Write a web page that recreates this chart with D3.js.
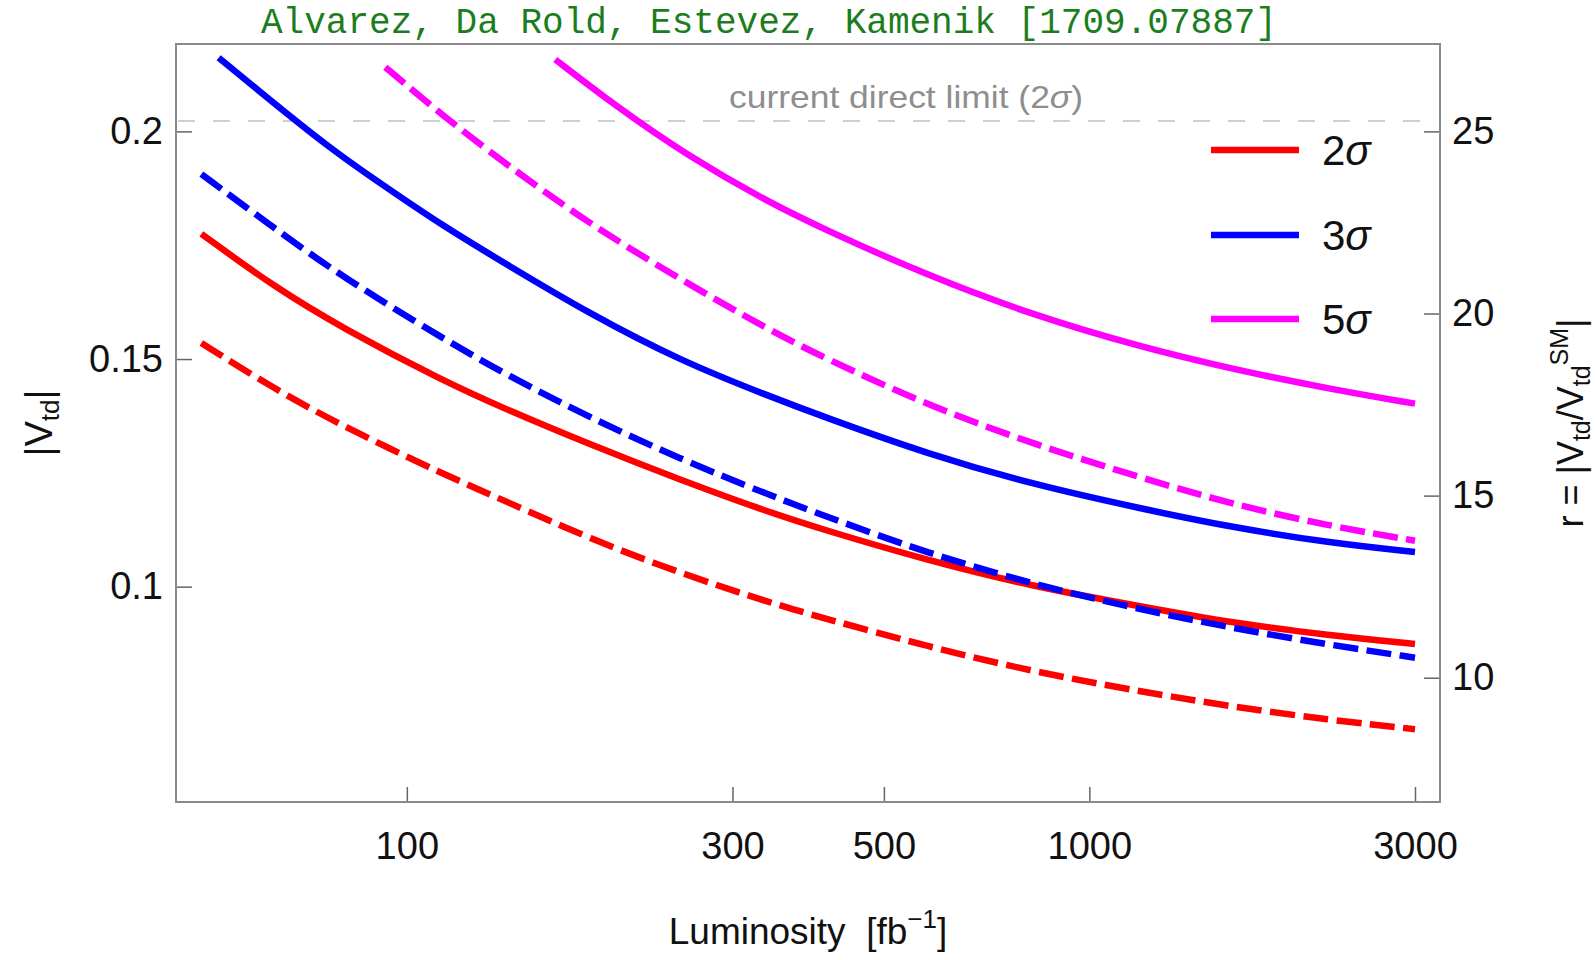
<!DOCTYPE html>
<html>
<head>
<meta charset="utf-8">
<script src="https://cdn.jsdelivr.net/npm/d3@7"></script>
<style>
  html, body { margin: 0; padding: 0; background: #fff; }
  svg { display: block; font-family: "Liberation Sans", Arial, sans-serif; }
</style>
</head>
<body>
<svg id="chart" width="1595" height="960"></svg>
<script>
// Luminosity samples [fb^-1] and the |Vtd| reach at each significance.
// Solid and dashed curves are the two scenarios of each significance level.
const lumi2Solid = [50, 64, 80.5, 113, 140, 185, 251, 340, 410, 578, 828, 1186, 1607, 2252, 3000];
const vtd2Solid  = [0.1775, 0.1658, 0.1568, 0.1452, 0.1389, 0.1313, 0.1235, 0.1163, 0.1124, 0.1058, 0.1000, 0.0957, 0.0921, 0.0893, 0.0874];

const lumi2Dashed = [50, 64, 80.5, 113, 140, 185, 251, 340, 410, 578, 828, 1186, 1607, 2252, 3000];
const vtd2Dashed  = [0.1535, 0.1434, 0.1353, 0.1247, 0.1187, 0.1106, 0.1030, 0.0965, 0.0930, 0.0869, 0.0813, 0.0770, 0.0737, 0.0707, 0.0687];

const lumi3Solid = [53, 61.5, 77, 90, 113, 140, 185, 251, 340, 410, 578, 828, 1186, 1607, 2252, 3000];
const vtd3Solid  = [0.2162, 0.2082, 0.1964, 0.1893, 0.1792, 0.1708, 0.1600, 0.1497, 0.1418, 0.1372, 0.1292, 0.1224, 0.1172, 0.1131, 0.1096, 0.1076];

const lumi3Dashed = [50, 64, 80.5, 113, 140, 185, 251, 340, 410, 578, 828, 1186, 1607, 2252, 3000];
const vtd3Dashed  = [0.1906, 0.1787, 0.1680, 0.1545, 0.1465, 0.1372, 0.1281, 0.1201, 0.1155, 0.1074, 0.1005, 0.0950, 0.0910, 0.0872, 0.0844];

const lumi5Solid = [165, 203, 257, 337, 410, 578, 828, 1186, 1607, 2252, 3000];
const vtd5Solid  = [0.2158, 0.2054, 0.1948, 0.1846, 0.1784, 0.1684, 0.1596, 0.1527, 0.1479, 0.1434, 0.1402];

const lumi5Dashed = [93, 113, 140, 185, 251, 340, 410, 578, 828, 1186, 1607, 2252, 3000];
const vtd5Dashed  = [0.2141, 0.2034, 0.1927, 0.1797, 0.1676, 0.1563, 0.1502, 0.1399, 0.1313, 0.1240, 0.1182, 0.1133, 0.1101];

// Axis ticks and reference values
const xTicks = [100, 300, 500, 1000, 3000];
const yTicks = [0.1, 0.15, 0.2];
const rTicks = [10, 15, 20, 25];
const sigmaLevels = ["2", "3", "5"];
const sigmaColors = ["#ff0000", "#0000ff", "#ff00ff"];
const directLimit = 0.2023;   // current direct bound on |Vtd| at 2 sigma
const vtdSM = 0.008;          // SM value used for the ratio axis

// Layout
const plot = { left: 176, right: 1440, top: 44, bottom: 802 };
const lumiDomain = [45.9, 3264];
const vtdDomain = [0.0527, 0.2192];

const svg = d3.select("#chart");

const x = d3.scaleLog().domain(lumiDomain).range([plot.left, plot.right]);
const y = d3.scaleLinear().domain(vtdDomain).range([plot.bottom, plot.top]);
const yR = d3.scaleLinear().domain(vtdDomain.map(v => v / vtdSM)).range([plot.bottom, plot.top]);

// Title
svg.append("text")
  .attr("x", 261).attr("y", 33)
  .attr("font-family", "'Liberation Mono', 'Courier New', monospace")
  .attr("font-size", 36)
  .attr("fill", "#1d7d1d")
  .attr("textLength", 1016)
  .attr("lengthAdjust", "spacingAndGlyphs")
  .text("Alvarez, Da Rold, Estevez, Kamenik [1709.07887]");

// Clip region for the curves
svg.append("defs").append("clipPath").attr("id", "plotClip")
  .append("rect")
  .attr("x", plot.left).attr("y", plot.top)
  .attr("width", plot.right - plot.left).attr("height", plot.bottom - plot.top);

// Direct-limit reference line and its label
svg.append("line")
  .attr("x1", plot.left + 2).attr("x2", plot.right - 2)
  .attr("y1", y(directLimit)).attr("y2", y(directLimit))
  .attr("stroke", "#cfcfcf").attr("stroke-width", 2)
  .attr("stroke-dasharray", "17,18");

const limitLabel = svg.append("text")
  .attr("x", 729).attr("y", 108)
  .attr("font-size", 32)
  .attr("fill", "#8e8e8e")
  .attr("textLength", 354)
  .attr("lengthAdjust", "spacingAndGlyphs");
limitLabel.append("tspan").text("current direct limit (2");
limitLabel.append("tspan").attr("font-style", "italic").text("σ");
limitLabel.append("tspan").text(")");

// Curves
const series = [
  { L: lumi2Solid,  V: vtd2Solid,  color: sigmaColors[0], dashed: false },
  { L: lumi2Dashed, V: vtd2Dashed, color: sigmaColors[0], dashed: true },
  { L: lumi3Solid,  V: vtd3Solid,  color: sigmaColors[1], dashed: false },
  { L: lumi3Dashed, V: vtd3Dashed, color: sigmaColors[1], dashed: true },
  { L: lumi5Solid,  V: vtd5Solid,  color: sigmaColors[2], dashed: false },
  { L: lumi5Dashed, V: vtd5Dashed, color: sigmaColors[2], dashed: true }
];

const line = d3.line()
  .x(d => x(d[0]))
  .y(d => y(d[1]))
  .curve(d3.curveBasis);

const curves = svg.append("g").attr("clip-path", "url(#plotClip)");
series.forEach(s => {
  const pts = s.L.map((l, i) => [l, s.V[i]]);
  curves.append("path")
    .datum(pts)
    .attr("d", line)
    .attr("fill", "none")
    .attr("stroke", s.color)
    .attr("stroke-width", 6.5)
    .attr("stroke-linecap", "butt")
    .attr("stroke-linejoin", "round")
    .attr("stroke-dasharray", s.dashed ? "25,8.5" : null);
});

// Axes (ticks point into the frame)
const tickColor = "#666";

const xAxis = svg.append("g")
  .attr("transform", `translate(0,${plot.bottom})`)
  .call(d3.axisBottom(x).tickValues(xTicks).tickFormat(d3.format("d"))
    .tickSizeInner(-15).tickSizeOuter(0).tickPadding(30));

const yAxis = svg.append("g")
  .attr("transform", `translate(${plot.left},0)`)
  .call(d3.axisLeft(y).tickValues(yTicks).tickFormat(d => String(d))
    .tickSizeInner(-16).tickSizeOuter(0).tickPadding(13));

const rAxis = svg.append("g")
  .attr("transform", `translate(${plot.right},0)`)
  .call(d3.axisRight(yR).tickValues(rTicks).tickFormat(d3.format("d"))
    .tickSizeInner(-16).tickSizeOuter(0).tickPadding(12));

[xAxis, yAxis, rAxis].forEach(g => {
  g.select(".domain").remove();
  g.selectAll(".tick line").attr("stroke", tickColor).attr("stroke-width", 1.5);
  g.selectAll(".tick text")
    .attr("fill", "#111")
    .attr("font-size", 38)
    .attr("font-family", "'Liberation Sans', Arial, sans-serif");
});

// Frame
svg.append("rect")
  .attr("x", plot.left).attr("y", plot.top)
  .attr("width", plot.right - plot.left).attr("height", plot.bottom - plot.top)
  .attr("fill", "none").attr("stroke", "#8a8a8a").attr("stroke-width", 2);

// Axis titles
const midX = (plot.left + plot.right) / 2;
const midY = (plot.top + plot.bottom) / 2;

const xTitle = svg.append("text")
  .attr("x", midX).attr("y", 944)
  .attr("text-anchor", "middle")
  .attr("font-size", 37).attr("fill", "#111");
xTitle.append("tspan").text("Luminosity\u00a0\u00a0[fb");
xTitle.append("tspan").attr("dy", -16).attr("font-size", 26).text("\u22121");
xTitle.append("tspan").attr("dy", 16).text("]");

const yTitle = svg.append("text")
  .attr("transform", `translate(52,${midY}) rotate(-90)`)
  .attr("text-anchor", "middle")
  .attr("font-size", 38).attr("fill", "#111");
yTitle.append("tspan").text("|V");
yTitle.append("tspan").attr("dy", 7).attr("font-size", 26).text("td");
yTitle.append("tspan").attr("dy", -7).text("|");

const rTitle = svg.append("text")
  .attr("transform", `translate(1583,${midY}) rotate(-90)`)
  .attr("text-anchor", "middle")
  .attr("font-size", 36).attr("fill", "#111");
rTitle.append("tspan").text("r = |V");
rTitle.append("tspan").attr("dy", 7).attr("font-size", 25).text("td");
rTitle.append("tspan").attr("dy", -7).text("/V");
rTitle.append("tspan").attr("dy", 7).attr("font-size", 25).text("td");
rTitle.append("tspan").attr("dy", -22).attr("font-size", 25).text("SM");
rTitle.append("tspan").attr("dy", 15).text("|");

// Legend
const legendY = [150, 235, 319];
const legend = svg.append("g");
sigmaLevels.forEach((lvl, i) => {
  legend.append("line")
    .attr("x1", 1211).attr("x2", 1299)
    .attr("y1", legendY[i]).attr("y2", legendY[i])
    .attr("stroke", sigmaColors[i]).attr("stroke-width", 6.5);
  const t = legend.append("text")
    .attr("x", 1322).attr("y", legendY[i] + 15)
    .attr("font-size", 42).attr("fill", "#111");
  t.append("tspan").text(lvl);
  t.append("tspan").attr("font-style", "italic").text("σ");
});
</script>
</body>
</html>
